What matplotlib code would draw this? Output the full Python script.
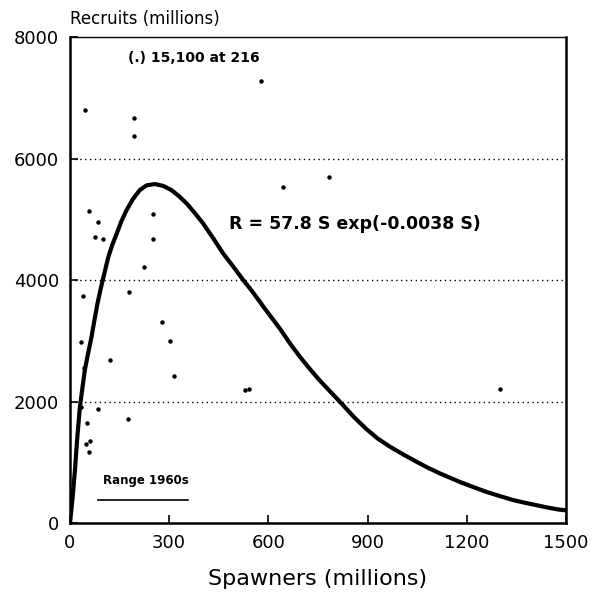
import matplotlib.pyplot as plt

spawners = [57, 85, 76, 101, 252, 252, 224, 178, 38, 277, 301, 33, 121, 42,
            314, 530, 540, 32, 84, 175, 50, 47, 62, 57, 45, 194, 194, 577,
            644, 783, 1301]
recruits = [5130, 4960, 4710, 4680, 5090, 4680, 4220, 3800, 3730, 3310, 2990,
            2980, 2680, 2550, 2420, 2190, 2210, 1910, 1880, 1720, 1650, 1310,
            1350, 1170, 6800, 6660, 6370, 7270, 5530, 5690, 2200]

# Fitted Ricker curve
curve_s = [0, 8, 15, 22, 30, 38, 45, 55, 65, 74, 83, 91, 99, 108, 116, 128,
           141, 155, 171, 190, 211, 232, 257, 282, 307, 330, 353, 378, 403,
           433, 463, 494, 524, 549, 592, 635, 665, 695, 725, 755, 788, 821,
           858, 896, 931, 967, 1008, 1048, 1083, 1118, 1148, 1178, 1219, 1259,
           1300, 1340, 1375, 1410, 1443, 1476, 1500]
curve_r = [0, 420, 870, 1400, 1910, 2240, 2520, 2800, 3060, 3340, 3610, 3810,
           4000, 4200, 4380, 4580, 4760, 4960, 5150, 5330, 5480, 5560, 5580,
           5550, 5480, 5380, 5260, 5100, 4930, 4690, 4440, 4220, 4000, 3830,
           3510, 3200, 2960, 2740, 2540, 2350, 2160, 1970, 1750, 1550, 1390,
           1260, 1130, 1010, 910, 820, 750, 680, 595, 515, 445, 380, 336, 296,
           258, 225, 210]

x_ticks = [0, 300, 600, 900, 1200, 1500]
y_ticks = [0, 2000, 4000, 6000, 8000]

plt.rcParams['font.family'] = 'DejaVu Sans'

fig = plt.figure(figsize=(5.98, 6.02), dpi=100)
ax = fig.add_axes([0.117, 0.131, 0.8295, 0.8075])

for y in y_ticks[1:-1]:
    ax.axhline(y, color='black', linestyle=(0, (1, 2.5)), linewidth=1.0, zorder=1)

ax.plot(curve_s, curve_r, color='black', linewidth=3, solid_capstyle='round',
        solid_joinstyle='round', zorder=3)
ax.plot(spawners, recruits, 'o', color='black', markersize=2.2, zorder=4)

# Range of 1960s spawners
ax.plot([85, 357], [380, 380], color='black', linewidth=1.2)
ax.text(100, 700, 'Range 1960s', fontsize=8.5, fontweight='bold', va='center')

ax.text(175, 7650, '(.) 15,100 at 216', fontsize=10, fontweight='bold', va='center')
ax.text(480, 4920, 'R = 57.8 S exp(-0.0038 S)', fontsize=12.5, fontweight='bold',
        va='center')

ax.set_xlim(0, 1500)
ax.set_ylim(0, 8000)
ax.set_xticks(x_ticks)
ax.set_yticks(y_ticks)
ax.tick_params(direction='in', length=6, width=1.2, labelsize=13, pad=8)
for side in ['left', 'bottom', 'right']:
    ax.spines[side].set_linewidth(1.8)
ax.spines['top'].set_linewidth(1.0)

ax.set_xlabel('Spawners (millions)', fontsize=16, labelpad=12)
fig.text(0.117, 0.968, 'Recruits (millions)', fontsize=12, ha='left', va='center')

fig.savefig('out.png', dpi=100)
